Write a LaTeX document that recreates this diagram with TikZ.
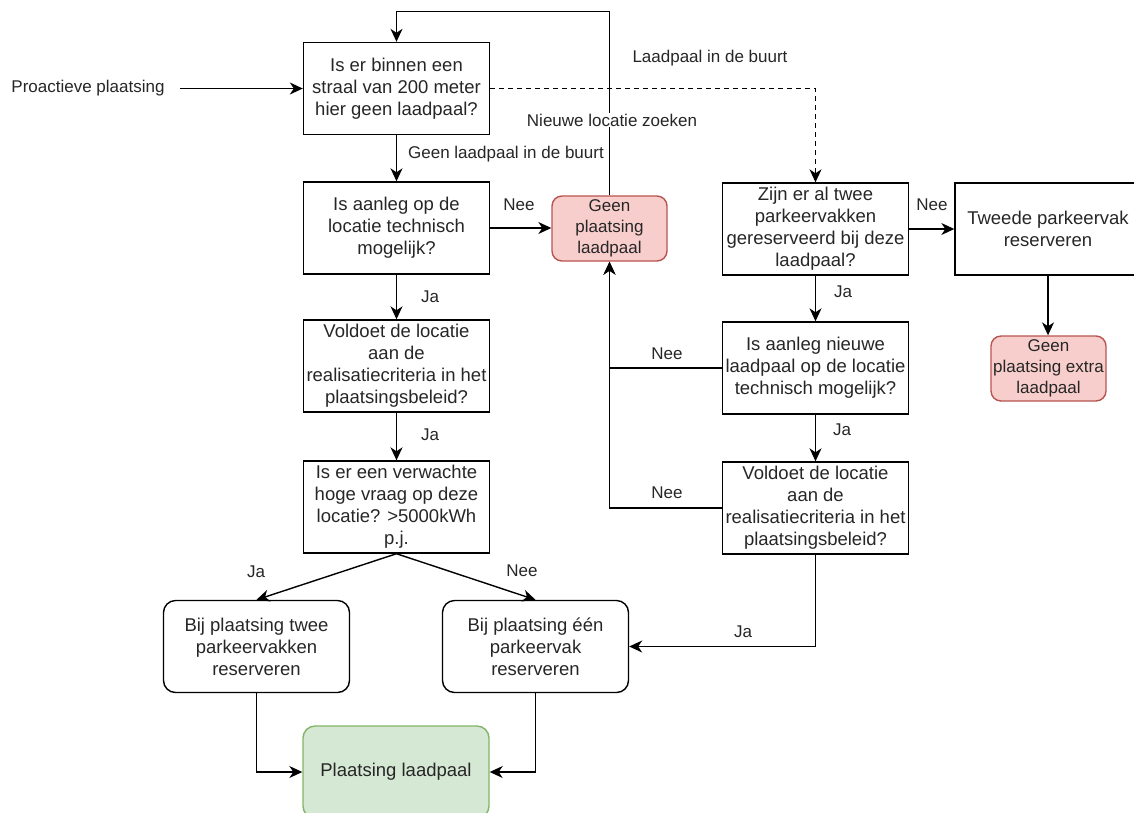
\documentclass[tikz,border=0pt]{standalone}
\usepackage{fontspec}
\setmainfont{Liberation Sans}
\usetikzlibrary{arrows.meta}
\definecolor{redfill}{HTML}{F8CECC}
\definecolor{redline}{HTML}{B85450}
\definecolor{greenfill}{HTML}{D5E8D4}
\definecolor{greenline}{HTML}{82B366}
\definecolor{txt}{HTML}{262626}
\begin{document}
\begin{tikzpicture}[x=1pt,y=-1pt,
 box/.style={draw, line width=1.4pt, minimum width=186pt, minimum height=92pt, inner sep=0pt, align=center, font=\fontsize{18.5}{22}\selectfont, text=txt},
 rbox/.style={box, rounded corners=12pt},
 redbox/.style={draw=redline, fill=redfill, line width=1.4pt, rounded corners=10pt, minimum width=115pt, minimum height=65pt, inner sep=0pt, align=center, font=\fontsize{17}{21}\selectfont, text=txt},
 conn/.style={line width=1.4pt, -{Stealth[length=13pt,width=12pt,inset=4pt]}},
 lab/.style={font=\fontsize{17}{20}\selectfont, text=txt, inner sep=1pt}
]
\useasboundingbox (0,0) rectangle (1134,812);
\clip (0,0) rectangle (1134,812);
% nodes
\node[box] (b1) at (396.5,88.5) {Is er binnen een\\straal van 200 meter\\hier geen laadpaal?};
\node[box] (b2) at (396.5,228) {Is aanleg op de\\locatie technisch\\mogelijk?};
\node[box] (b3) at (396.5,366) {Voldoet de locatie\\aan de\\realisatiecriteria in het\\plaatsingsbeleid?};
\node[box] (b4) at (396.5,507) {Is er een verwachte\\hoge vraag op deze\\locatie? >5000kWh\\p.j.};
\node[redbox] (gp) at (609.5,228.5) {Geen\\plaatsing\\laadpaal};
\node[box] (r1) at (815.5,229) {Zijn er al twee\\parkeervakken\\gereserveerd bij deze\\laadpaal?};
\node[box] (tw) at (1048,229) {Tweede parkeervak\\reserveren};
\node[redbox] (ge) at (1048.5,368.5) {Geen\\plaatsing extra\\laadpaal};
\node[box] (r2) at (815.5,368) {Is aanleg nieuwe\\laadpaal op de locatie\\technisch mogelijk?};
\node[box] (r3) at (815.5,508) {Voldoet de locatie\\aan de\\realisatiecriteria in het\\plaatsingsbeleid?};
\node[rbox] (bl) at (256.5,646.5) {Bij plaatsing twee\\parkeervakken\\reserveren};
\node[rbox] (bm) at (535.5,646.5) {Bij plaatsing één\\parkeervak\\reserveren};
\node[box, draw=greenline, fill=greenfill, rounded corners=12pt] (pl) at (396,772) {Plaatsing laadpaal};
\node[lab] (pro) at (88,88.5) {Proactieve plaatsing};
% connectors
\draw[conn, shorten <=14pt] (pro.east) -- (pro.east -| b1.west);
\draw[conn] (b1) -- (b2);
\draw[conn] (b2.east) -- (b2.east -| gp.west);
\draw[conn] (b2) -- (b3);
\draw[conn] (b3) -- (b4);
\draw[conn] (b4.south) -- (bl.north);
\draw[conn] (b4.south) -- (bm.north);
\draw[conn] (gp.north) -- ++(0,-184) -| (b1.north);
\draw[conn, dash pattern=on 4.5pt off 4.5pt] (b1.east) -| (r1.north);
\draw[conn] (r1.east) -- (r1.east -| tw.west);
\draw[conn] (r1) -- (r2);
\draw[conn] (tw.south) -- (tw.south |- ge.north);
\draw[conn] (r2.west) -| (gp.south);
\draw[conn] (r3.west) -| (gp.south);
\draw[conn] (r2) -- (r3);
\draw[conn] (r3.south) |- (bm.east);
\draw[conn] (bl.south) |- (pl.west);
\draw[conn] (bm.south) |- (pl.east);
% labels
\node[lab] (l1) at (710,58) {Laadpaal in de buurt};
\node[lab, fill=white] (l2) at (612,120) {Nieuwe locatie zoeken};
\node[lab] (l3) at (506,154) {Geen laadpaal in de buurt};
\node[lab] (l4) at (519,205) {Nee};
\node[lab] (l5) at (430,297) {Ja};
\node[lab] (l6) at (430,435) {Ja};
\node[lab] (l7) at (256,572) {Ja};
\node[lab] (l8) at (522,571) {Nee};
\node[lab] (l9) at (932,205) {Nee};
\node[lab] (l10) at (843,292) {Ja};
\node[lab] (l11) at (667,354) {Nee};
\node[lab] (l12) at (667,493) {Nee};
\node[lab] (l13) at (842,430) {Ja};
\node[lab] (l14) at (743,632) {Ja};
\end{tikzpicture}
\end{document}
